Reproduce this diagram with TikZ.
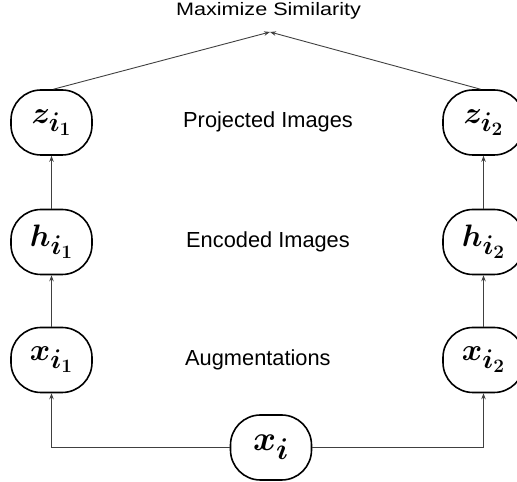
\RequirePackage{fix-cm}
\documentclass[tikz,border=0pt]{standalone}
\usepackage{amsmath,bm}
\usepackage{fontspec}
\setsansfont{Liberation Sans}
\usetikzlibrary{arrows.meta}
% large index sizes for the node variables
\DeclareMathSizes{31}{31}{27}{19}
\DeclareMathSizes{35}{35}{30}{21}
\tikzset{
  var/.style={draw=black, line width=1.6pt, rounded corners=30pt,
    minimum width=81pt, minimum height=65pt, inner sep=0pt,
    font=\fontsize{31}{36}\selectfont},
  lbl/.style={font=\sffamily\fontsize{21.8}{25}\selectfont, anchor=west, inner sep=0pt},
  flow/.style={draw=black!75, line width=0.9pt, -{Stealth[length=6pt,width=4.5pt]}},
}
\begin{document}
\begin{tikzpicture}[x=1pt,y=1pt]
  \useasboundingbox (0,0) rectangle (517,482);
  % two augmented branches
  \node[var] (z1) at (51.5,359.5) {$\bm{z_{i_1}}$};
  \node[var] (h1) at (51.5,240)   {$\bm{h_{i_1}}$};
  \node[var] (x1) at (51.5,122)   {$\bm{x_{i_1}}$};
  \node[var] (z2) at (483.5,359.5) {$\bm{z_{i_2}}$};
  \node[var] (h2) at (483.5,240)   {$\bm{h_{i_2}}$};
  \node[var] (x2) at (483.5,122)   {$\bm{x_{i_2}}$};
  % original input
  \node[var, font=\fontsize{35}{40}\selectfont] (x) at (271,34.5) {$\bm{x_{i}}$};
  % stage labels
  \node[lbl] (lp) at (183,360) {Projected Images};
  \node[lbl] (le) at (186,240) {Encoded Images};
  \node[lbl] (la) at (185,122) {Augmentations};
  \node[font=\sffamily\fontsize{18}{22}\selectfont, xscale=1.2, inner sep=0pt] (goal) at (268.5,471) {Maximize Similarity};
  \coordinate (meet) at (270,450);
  % connectors
  \draw[flow] (x.west) -| (x1.south);
  \draw[flow] (x.east) -| (x2.south);
  \draw[flow] (x1) -- (h1);
  \draw[flow] (h1) -- (z1);
  \draw[flow] (x2) -- (h2);
  \draw[flow] (h2) -- (z2);
  \draw[flow] ([xshift=2pt]z1.north) -- (meet);
  \draw[flow] ([xshift=-3pt]z2.north) -- (meet);
\end{tikzpicture}
\end{document}
